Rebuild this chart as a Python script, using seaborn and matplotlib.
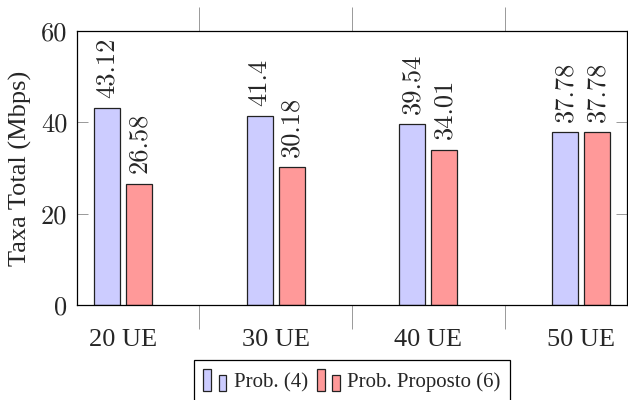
import matplotlib
matplotlib.use("Agg")
import matplotlib.pyplot as plt
from matplotlib.patches import Rectangle
from matplotlib.legend_handler import HandlerBase
import seaborn as sns
import pandas as pd

# Data
categories = ["20 UE", "30 UE", "40 UE", "50 UE"]
series_names = ["Prob. (4)", "Prob. Proposto (6)"]
prob4 = [43.12, 41.4, 39.54, 37.78]
proposto6 = [26.58, 30.18, 34.01, 37.78]
y_ticks = [0, 20, 40, 60]

fill_colors = {"Prob. (4)": "#ccccff", "Prob. Proposto (6)": "#ff9999"}

sns.set_theme(style="white")
plt.rcParams["font.family"] = ["Liberation Serif", "DejaVu Serif"]
plt.rcParams["mathtext.fontset"] = "cm"

df = pd.DataFrame({
    "categoria": categories * 2,
    "taxa": prob4 + proposto6,
    "serie": [series_names[0]] * len(categories) + [series_names[1]] * len(categories),
})

fig = plt.figure(figsize=(6.28, 4.0), dpi=100)
ax = fig.add_axes([77 / 628, 95 / 400, 550 / 628, 274 / 400])

sns.barplot(data=df, x="categoria", y="taxa", hue="serie", hue_order=series_names,
            order=categories, palette=fill_colors, width=0.42, gap=0.19,
            edgecolor="#222222", linewidth=0.9, saturation=1, errorbar=None,
            legend=False, ax=ax)

# Value labels above the bars, rotated
for cont in ax.containers:
    ax.bar_label(cont, fmt="%g", rotation=90, padding=7.5, fontsize=19,
                 family="cmr10")

ax.set_xlim(-0.3, 3.3)
ax.set_ylim(0, 60)
ax.set_yticks(y_ticks)
ax.set_xlabel("")
ax.set_ylabel("Taxa Total (Mbps)", fontsize=19)
ax.yaxis.set_label_coords(-0.082, 0.5)

for lab in ax.get_yticklabels():
    lab.set_family("cmr10")
    lab.set_fontsize(19)
for lab in ax.get_xticklabels():
    lab.set_fontsize(19)

# Category ticks: no mark, label only; separators between groups as minor ticks
ax.tick_params(axis="x", which="major", length=0, pad=17)
ax.set_xticks([0.5, 1.5, 2.5], minor=True)
ax.tick_params(axis="x", which="minor", direction="out", length=17, width=0.7,
               color="#999999", top=True, bottom=True)
ax.tick_params(axis="y", which="major", direction="in", length=8, width=0.7,
               color="#999999", left=True, right=True, pad=7)

for sp in ax.spines.values():
    sp.set_visible(True)
    sp.set_color("black")
    sp.set_linewidth(0.9)


class TwinBarHandler(HandlerBase):
    def create_artists(self, legend, orig_handle, xdescent, ydescent, width,
                       height, fontsize, trans):
        fc = orig_handle.get_facecolor()
        ec = orig_handle.get_edgecolor()
        w = width * 0.33
        r1 = Rectangle((-xdescent, -ydescent), w, height, facecolor=fc,
                       edgecolor=ec, linewidth=0.9, transform=trans)
        r2 = Rectangle((-xdescent + width - w, -ydescent), w, height * 0.75,
                       facecolor=fc, edgecolor=ec, linewidth=0.9, transform=trans)
        return [r1, r2]


handles = [Rectangle((0, 0), 1, 1, facecolor=fill_colors[n], edgecolor="#222222")
           for n in series_names]
leg = ax.legend(handles, series_names, loc="upper center",
                bbox_to_anchor=(0.5, -0.2007), borderaxespad=0, ncol=2,
                fontsize=15, handlelength=1.1, handleheight=1.2,
                handletextpad=0.35, columnspacing=0.45, borderpad=0.45,
                fancybox=False, framealpha=1, edgecolor="black",
                handler_map={Rectangle: TwinBarHandler()})
leg.get_frame().set_linewidth(0.9)

fig.savefig("out.png", dpi=100)
